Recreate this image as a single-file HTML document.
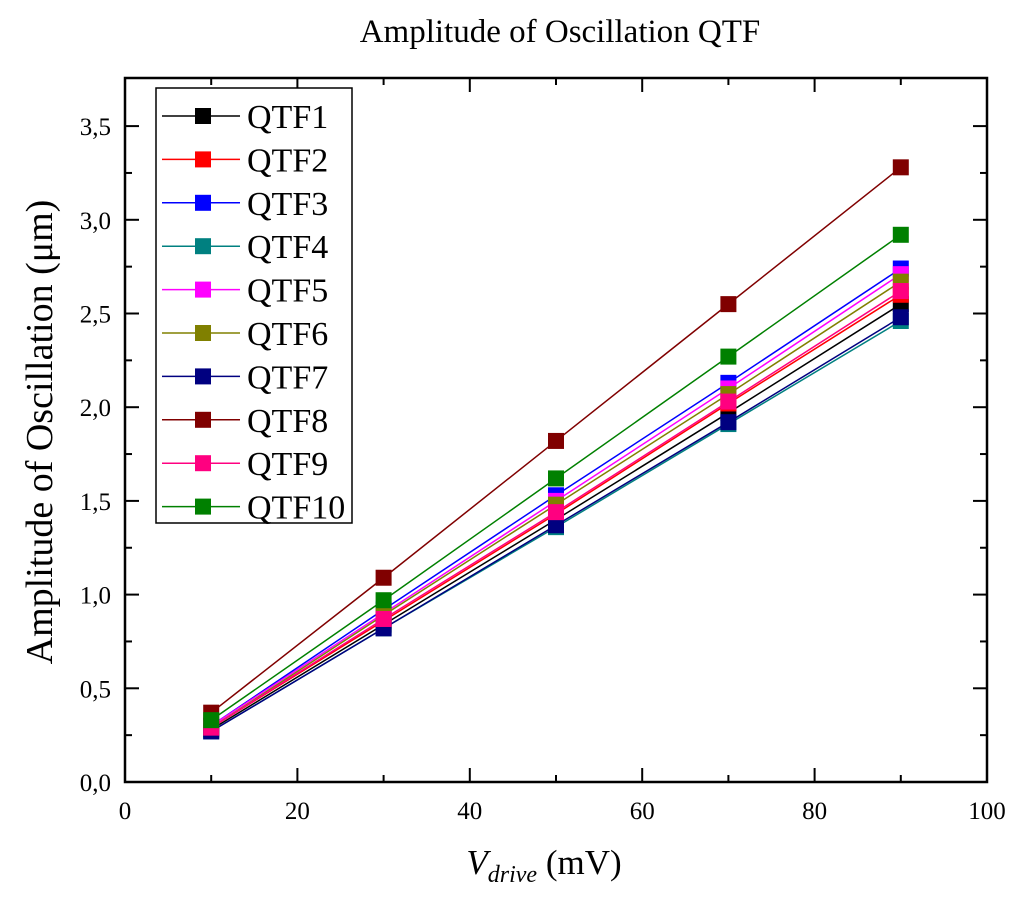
<!DOCTYPE html>
<html><head><meta charset="utf-8"><style>
html,body{margin:0;padding:0;background:#fff;}
svg text{font-family:"Liberation Serif",serif;}
</style></head><body>
<svg id="chart" width="1024" height="904" xmlns="http://www.w3.org/2000/svg">
<text x="560" y="42" font-size="33" text-anchor="middle">Amplitude of Oscillation QTF</text>
<g id="plot"></g>
<text transform="translate(52,432) rotate(-90)" font-size="38" text-anchor="middle">Amplitude of Oscillation (μm)</text>
<text x="544" y="874" font-size="35" text-anchor="middle"><tspan font-style="italic">V</tspan><tspan font-style="italic" font-size="24" dy="8">drive</tspan><tspan dy="-8"> (mV)</tspan></text>
</svg>
<script>
const xValues=[10,30,50,70,90];
const seriesNames=["QTF1","QTF2","QTF3","QTF4","QTF5","QTF6","QTF7","QTF8","QTF9","QTF10"];
const seriesColors=["#000000","#ff0000","#0000ff","#008080","#ff00ff","#808000","#000080","#800000","#ff0080","#008000"];
const qtf1=[0.28,0.84,1.40,1.97,2.55];
const qtf2=[0.29,0.86,1.43,2.02,2.60];
const qtf3=[0.30,0.92,1.53,2.13,2.74];
const qtf4=[0.27,0.82,1.36,1.91,2.46];
const qtf5=[0.30,0.90,1.50,2.10,2.71];
const qtf6=[0.29,0.89,1.48,2.07,2.67];
const qtf7=[0.27,0.82,1.37,1.92,2.48];
const qtf8=[0.37,1.09,1.82,2.55,3.28];
const qtf9=[0.29,0.87,1.44,2.03,2.62];
const qtf10=[0.33,0.97,1.62,2.27,2.92];
const xTicks=[0,20,40,60,80,100];
const yTicks=["0,0","0,5","1,0","1,5","2,0","2,5","3,0","3,5"];

const allSeries=[qtf1,qtf2,qtf3,qtf4,qtf5,qtf6,qtf7,qtf8,qtf9,qtf10];
const L=125,R=987,T=78,B=782;
const xs=v=>L+(v/100)*(R-L);
const ys=v=>B-v*187.4;
const NS="http://www.w3.org/2000/svg";
const g=document.getElementById('plot');
function mk(t,a,p){const e=document.createElementNS(NS,t);for(const k in a)e.setAttribute(k,a[k]);(p||g).appendChild(e);return e;}

const frame=mk('rect',{x:L,y:T,width:R-L,height:B-T,fill:'none',stroke:'#000','stroke-width':2.5});


for(let v=0;v<=100;v+=10){
  const major=v%20===0,len=major?14:7,x=xs(v);
  mk('line',{x1:x,y1:B,x2:x,y2:B-len,stroke:'#000','stroke-width':2});
  mk('line',{x1:x,y1:T,x2:x,y2:T+len,stroke:'#000','stroke-width':2});
}
xTicks.forEach(v=>{
  const t=mk('text',{x:xs(v),y:B+37,'font-size':25,'text-anchor':'middle'});
  t.textContent=v;
  
  
});
for(let i=0;i<=14;i++){
  const v=i*0.25,major=i%2===0,len=major?14:7,y=ys(v);
  mk('line',{x1:L,y1:y,x2:L+len,y2:y,stroke:'#000','stroke-width':2});
  mk('line',{x1:R,y1:y,x2:R-len,y2:y,stroke:'#000','stroke-width':2});
}
yTicks.forEach((s,i)=>{
  const t=mk('text',{x:L-14,y:ys(i*0.5)+9,'font-size':25,'text-anchor':'end'});
  t.textContent=s;
  
  
});
allSeries.forEach((s,si)=>{
  const grp=mk('g',{});
  
  
  const pts=s.map((v,i)=>xs(xValues[i])+','+ys(v)).join(' ');
  mk('polyline',{points:pts,fill:'none',stroke:seriesColors[si],'stroke-width':1.5},grp);
  s.forEach((v,i)=>{
    const r=mk('rect',{x:xs(xValues[i])-8,y:ys(v)-8,width:16,height:16,fill:seriesColors[si]},grp);
    
    
  });
});
const lg=mk('g',{});


mk('rect',{x:156,y:88,width:196,height:435,fill:'#fff',stroke:'#000','stroke-width':1.5},lg);
seriesNames.forEach((n,i)=>{
  const y=116+i*43.4;
  const e=mk('g',{},lg);
  
  
  mk('line',{x1:162,y1:y,x2:240,y2:y,stroke:seriesColors[i],'stroke-width':1.5},e);
  mk('rect',{x:195,y:y-8,width:16,height:16,fill:seriesColors[i]},e);
  const t=mk('text',{x:247,y:y+12,'font-size':34},e);
  t.textContent=n;
});
</script>
</body></html>
